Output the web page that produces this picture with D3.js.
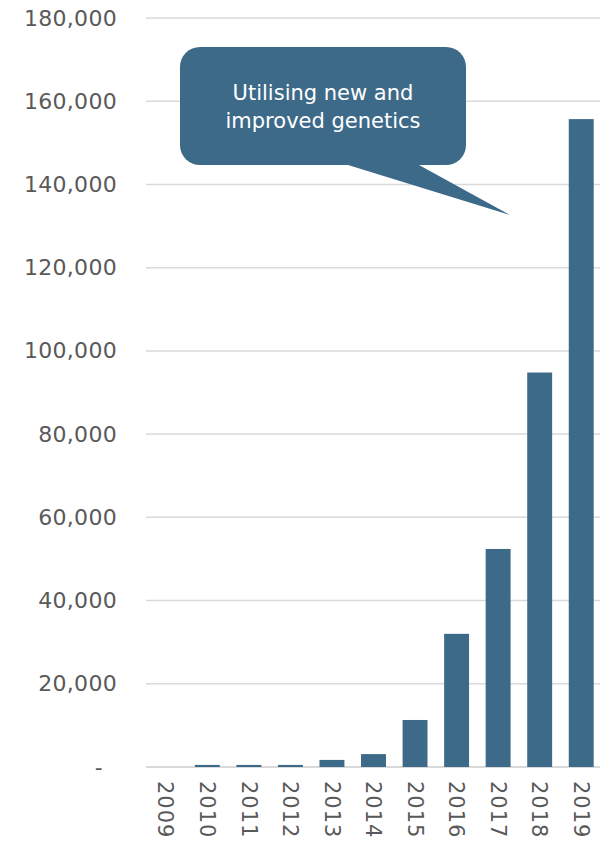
<!DOCTYPE html>
<html>
<head>
<meta charset="utf-8">
<script src="https://cdn.jsdelivr.net/npm/d3@7"></script>
<style>
  body { margin: 0; background: #fff; }
  svg text { font-family: "DejaVu Sans", sans-serif; }
</style>
</head>
<body>
<div id="chart"></div>
<script>
// Data
const years = ['2009', '2010', '2011', '2012', '2013', '2014', '2015', '2016', '2017', '2018', '2019'];
const values = [0, 500, 500, 500, 1700, 3100, 11300, 32000, 52400, 94800, 155700];
const yTicks = [0, 20000, 40000, 60000, 80000, 100000, 120000, 140000, 160000, 180000];
const calloutLines = ['Utilising new and', 'improved genetics'];

const width = 606;
const height = 842;
const barColor = '#3d6a89';

const svg = d3.select('#chart')
    .append('svg')
    .attr('width', width)
    .attr('height', height);

const xScale = d3.scaleBand()
    .domain(years)
    .range([145, 602])
    .paddingInner(0.4)
    .paddingOuter(0.2);

const yScale = d3.scaleLinear()
    .domain([0, 180000])
    .range([767, 18]);

// Gridlines
svg.append('g')
    .selectAll('line')
    .data(yTicks)
    .join('line')
    .attr('x1', 146)
    .attr('x2', 600)
    .attr('y1', (d) => yScale(d))
    .attr('y2', (d) => yScale(d))
    .attr('stroke', '#d9d9d9')
    .attr('stroke-width', (d) => (d === 0 ? 2 : 1.5));

// Y axis labels
const yAxis = d3.axisLeft(yScale)
    .tickValues(yTicks)
    .tickSize(0)
    .tickPadding(0)
    .tickFormat((d) => (d === 0 ? '-' : d3.format(',')(d)));

svg.append('g')
    .attr('transform', 'translate(117,0)')
    .call(yAxis)
    .call((g) => g.select('.domain').remove())
    .selectAll('text')
    .attr('fill', '#595959')
    .style('font-size', '22px')
    .style('letter-spacing', '0.3px')
    .attr('dx', (d) => (d === 0 ? -14 : 0));

// Bars
svg.append('g')
    .selectAll('rect')
    .data(years.map((y, i) => ({ year: y, value: values[i] })))
    .join('rect')
    .attr('x', (d) => xScale(d.year))
    .attr('y', (d) => yScale(d.value))
    .attr('width', xScale.bandwidth())
    .attr('height', (d) => yScale(0) - yScale(d.value))
    .attr('fill', barColor);

// X axis labels, rotated clockwise
const xAxis = d3.axisBottom(xScale).tickSize(0).tickPadding(0);

svg.append('g')
    .attr('transform', 'translate(0,781)')
    .call(xAxis)
    .call((g) => g.select('.domain').remove())
    .selectAll('text')
    .attr('fill', '#595959')
    .style('font-size', '21px')
    .style('letter-spacing', '1px')
    .attr('transform', 'rotate(90)')
    .attr('text-anchor', 'start')
    .attr('dy', '0.35em')
    .attr('x', 0)
    .attr('y', 0);

// Callout bubble
const box = { x: 180, y: 47, w: 286, h: 118, r: 20 };
const tail = [[348, 165], [419, 165], [510, 215]];

const callout = svg.append('g');
callout.append('path')
    .attr('d', d3.line()(tail) + 'Z')
    .attr('fill', barColor);
callout.append('rect')
    .attr('x', box.x)
    .attr('y', box.y)
    .attr('width', box.w)
    .attr('height', box.h)
    .attr('rx', box.r)
    .attr('fill', barColor);

callout.selectAll('text')
    .data(calloutLines)
    .join('text')
    .attr('x', box.x + box.w / 2)
    .attr('y', (d, i) => 100 + i * 28)
    .attr('text-anchor', 'middle')
    .attr('fill', '#ffffff')
    .style('font-size', '21px')
    .text((d) => d);
</script>
</body>
</html>
